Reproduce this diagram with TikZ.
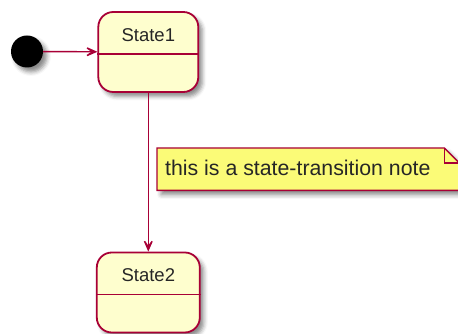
\documentclass[tikz,border=0pt]{standalone}
\usepackage{fontspec}
\setmainfont{Liberation Sans}
\usetikzlibrary{arrows.meta,shadows.blur}
\definecolor{umlred}{HTML}{A80036}
\definecolor{statefill}{HTML}{FEFECE}
\definecolor{notefill}{HTML}{FBFB77}
\tikzset{
    umlshadow/.style={blur shadow={shadow xshift=4pt, shadow yshift=-4.5pt, shadow blur radius=4pt, shadow opacity=45}},
    statebox/.style={draw=umlred, fill=statefill, line width=1.8pt, rounded corners=15pt, minimum height=80pt, umlshadow},
    statename/.style={font=\fontsize{18.5}{22}\selectfont, text=black!85},
    notetext/.style={font=\fontsize{21.3}{25}\selectfont, text=black!85, inner sep=0pt},
    transition/.style={draw=umlred, line width=1.4pt, -{Stealth[length=17pt, width=15pt, inset=11pt]}},
}
\begin{document}
\begin{tikzpicture}[x=1pt,y=1pt]
        \useasboundingbox (0,0) rectangle (458,334);
        \clip (0,0) rectangle (458,334);
        % states
            \node[circle, fill=black, minimum size=32pt, inner sep=0pt, umlshadow] (start) at (27,282.5) {};
            \node[statebox, minimum width=100pt] (s1) at (148.3,282) {};
            \node[statebox, minimum width=103pt] (s2) at (148.3,41.5) {};
            \foreach \s/\t in {s1/State1,s2/State2}{
                \node[statename, anchor=center] at ([yshift=-24pt]\s.north) {\t};
                \draw[umlred, line width=1.8pt] ([yshift=-43pt]\s.north west) -- ([yshift=-43pt]\s.north east);
            }
        % transitions
            \draw[transition] (start) -- (s1);
            \draw[transition] (s1) -- (s2);
        % note
            \node[minimum width=302pt, minimum height=42pt, inner sep=0pt, anchor=north west] (n) at (157,186) {};
            \path[draw=umlred, fill=notefill, line width=1.3pt, umlshadow]
                (n.south west) -- (n.north west) -- ([xshift=-15pt]n.north east)
                -- ([yshift=-15pt]n.north east) -- (n.south east) -- cycle;
            \draw[umlred, line width=1.3pt] ([xshift=-15pt]n.north east) -- ([xshift=-15pt,yshift=-15pt]n.north east)
                -- ([yshift=-15pt]n.north east);
            \node[notetext, anchor=west] (ntext) at ([xshift=8pt,yshift=1pt]n.west) {this is a state-transition note};
\end{tikzpicture}
\end{document}
